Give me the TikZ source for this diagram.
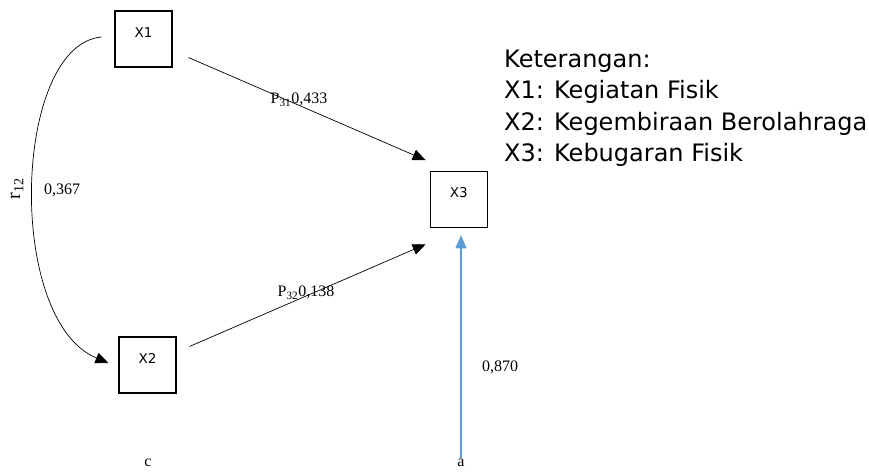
\documentclass[tikz,border=0pt]{standalone}
\usepackage{fontspec}
\setmainfont{Liberation Serif}
\newfontfamily\boxfont{DejaVu Sans}
\usetikzlibrary{arrows.meta}
\definecolor{errblue}{RGB}{91,155,213}

\tikzset{
  var/.style={draw, line width=1.1pt, inner sep=0pt, text width=57pt, align=center,
    text height=26pt, text depth=30pt, font=\boxfont\fontsize{13.5}{15}\selectfont},
  coef/.style={-{Triangle[length=13pt,width=11pt]}, line width=0.7pt},
  resid/.style={coef, line width=1.1pt, color=errblue},
  lbl/.style={inner sep=1pt, font=\fontsize{16}{18}\selectfont},
  note/.style={anchor=base west, inner sep=0pt, font=\boxfont\fontsize{24}{28}\selectfont}
}

\begin{document}
\begin{tikzpicture}[x=1pt,y=-1pt]
      \useasboundingbox (0,0) rectangle (869,472);

      \node[var] (x1) at (143.5,39)    {X1};
      \node[var] (x2) at (147.5,365)   {X2};
      \node[var] (x3) at (458.7,199.7) {X3};
      \node[lbl] (c)  at (148,463)     {c};
      \node[lbl] (a)  at (461,463)     {a};

      \draw[coef] ([xshift=16pt,yshift=10pt]x1.south east) -- ([xshift=-4pt,yshift=11pt]x3.north west);
      \draw[coef] ([xshift=13pt,yshift=-10pt]x2.north east) -- ([xshift=-4pt,yshift=-16pt]x3.south west);
      \draw[coef] ([xshift=-13pt,yshift=2pt]x1.west) .. controls (13,45) and (5,320) .. ([xshift=-10pt,yshift=2pt]x2.west);
      \draw[resid] (a.north) -- ([xshift=2.3pt,yshift=-7pt]x3.south);

      \node[lbl] (p31) at (299,100) {P\textsubscript{31}0,433};
      \node[lbl] (p32) at (306,293) {P\textsubscript{32}0,138};
      \node[lbl] (r12) at (62,190)  {0,367};
      \node[lbl, rotate=90, font=\fontsize{20}{22}\selectfont] (rname) at (17,189) {r\textsubscript{12}};
      \node[lbl] (e3)  at (500,367) {0,870};

      % legend
      \foreach \txt [count=\i] in {Keterangan:, X1: Kegiatan Fisik, X2: Kegembiraan Berolahraga, X3: Kebugaran Fisik}
        \node[note] (leg\i) at (504,{67+31.6*(\i-1)}) {\txt};
\end{tikzpicture}
\end{document}
